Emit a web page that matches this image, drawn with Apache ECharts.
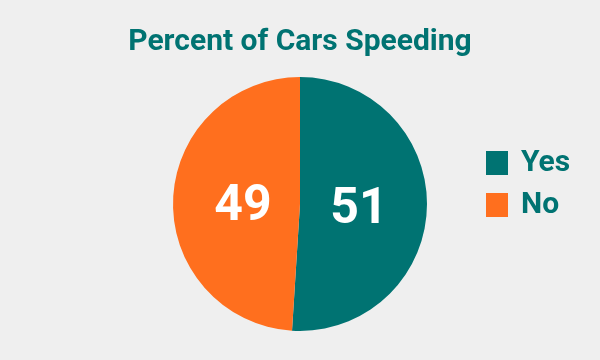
<!DOCTYPE html>
<html>
<head>
<meta charset="utf-8">
<script src="https://cdn.jsdelivr.net/npm/echarts@6/dist/echarts.min.js"></script>
<style>
html,body{margin:0;padding:0;background:#efefef;}
#chart{width:600px;height:360px;}
</style>
</head>
<body>
<div id="chart"></div>
<script>
const categories = ["Yes", "No"];
const values = [51, 49];
const colors = ["#007372", "#ff6f1e"];
const titleText = "Percent of Cars Speeding";

const pieData = categories.map((c, i) => ({ name: c, value: values[i] }));

const chart = echarts.init(document.getElementById('chart'));
chart.setOption({
  backgroundColor: '#efefef',
  animation: false,
  color: colors,
  title: {
    text: titleText,
    left: 'center',
    top: 22,
    textStyle: { fontFamily: 'Roboto', fontWeight: 'bold', fontSize: 30, color: '#007372' }
  },
  legend: {
    orient: 'vertical',
    left: 481,
    top: 143,
    itemWidth: 22,
    itemHeight: 24,
    itemGap: 12,
    icon: 'rect',
    data: categories,
    textStyle: { fontFamily: 'Roboto', fontWeight: 'bold', fontSize: 30, color: '#007372', padding: [0,0,0,8] }
  },
  series: [{
    type: 'pie',
    center: [300, 204],
    radius: [0, 127],
    startAngle: 90,
    clockwise: true,
    label: { show: false },
    labelLine: { show: false },
    itemStyle: { borderWidth: 0 },
    emphasis: { disabled: true },
    data: pieData
  }, {
    type: 'pie',
    center: [301, 209],
    radius: [0, 110],
    startAngle: 90,
    clockwise: true,
    silent: true,
    legendHoverLink: false,
    label: {
      position: 'inside',
      formatter: '{c}',
      fontFamily: 'Roboto',
      fontWeight: 'bold',
      fontSize: 50,
      color: '#ffffff'
    },
    labelLine: { show: false },
    itemStyle: { color: 'rgba(0,0,0,0)', borderWidth: 0 },
    emphasis: { disabled: true },
    data: pieData
  }]
});
</script>
</body>
</html>
